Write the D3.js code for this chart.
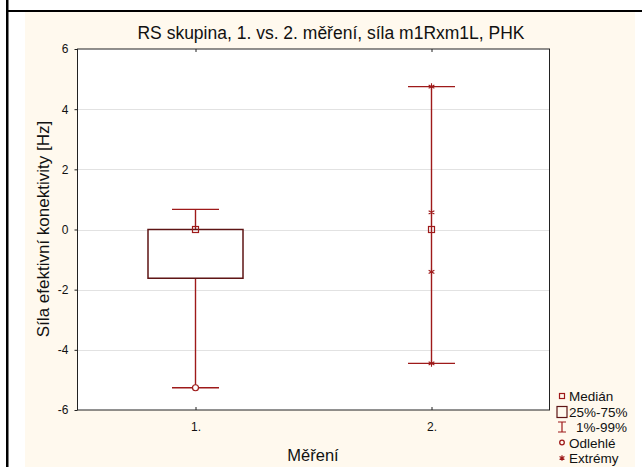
<!DOCTYPE html>
<meta charset="utf-8">
<body style="margin:0;background:#fff">
<style>
text { font-family: "Liberation Sans", Arial, sans-serif; fill: #111; }
.grid line { stroke: #e2e2e2; stroke-width: 1px; }
</style>
<script src="https://d3js.org/d3.v7.min.js"></script>
<script>

var categories = ["1.", "2."];
var medians = [0, 0];
var q1 = [-1.62, 0];
var q3 = [0, 0];
var p1 = [-5.26, -4.45];
var p99 = [0.67, 4.75];
var outliers = [[-5.26], []];
var extremes = [[], [4.75, 0.57, -1.41, -4.45]];
var yTicks = [-6, -4, -2, 0, 2, 4, 6];
var legendLabels = ["Medián", "25%-75%", "1%-99%", "Odlehlé", "Extrémy"];

var red = "#9e1a1a", dark = "#5e1414";

var svg = d3.select("body").append("svg")
    .attr("width", 642)
    .attr("height", 467);

// frame + cream panel
svg.append("rect").attr("x", 25).attr("y", 12).attr("width", 610).attr("height", 455).attr("fill", "#fff9ee");
svg.append("rect").attr("x", 6).attr("y", 0).attr("width", 2.5).attr("height", 467).attr("fill", "#000");
svg.append("rect").attr("x", 6).attr("y", 10).attr("width", 636).attr("height", 2).attr("fill", "#000");

var pLeft = 77.5, pRight = 549.5, pTop = 49, pBottom = 410;

var x = d3.scalePoint().domain(categories).range([pLeft, pRight]).padding(0.5);
var y = d3.scaleLinear().domain([-6, 6]).range([pBottom, pTop]);

svg.append("rect").attr("x", pLeft).attr("y", pTop).attr("width", pRight - pLeft).attr("height", pBottom - pTop)
    .attr("fill", "#fff");

svg.append("g").attr("class", "grid")
  .selectAll("line").data(yTicks.filter(function(d) { return d > -6 && d < 6; }))
  .enter().append("line")
    .attr("x1", pLeft).attr("x2", pRight)
    .attr("y1", function(d) { return Math.round(y(d)) + 0.5; })
    .attr("y2", function(d) { return Math.round(y(d)) + 0.5; });

// axes
var yAxis = svg.append("g").attr("transform", "translate(" + pLeft + ",0)")
    .call(d3.axisLeft(y).tickValues(yTicks).tickSize(3).tickPadding(6)
      .tickFormat(function(d) { return String(d); }));
var xAxis = svg.append("g").attr("transform", "translate(0," + pBottom + ")")
    .call(d3.axisBottom(x).tickSize(-3).tickPadding(12));
svg.append("g").attr("transform", "translate(0," + pTop + ")")
    .call(d3.axisTop(x).tickSize(-3).tickFormat(""));
[yAxis, xAxis].forEach(function(a) {
  a.selectAll("text").style("font-size", "12px").attr("fill", "#111");
});
svg.selectAll(".domain").remove();
svg.selectAll(".tick line").attr("stroke", "#222");
svg.append("rect").attr("x", pLeft).attr("y", pTop).attr("width", pRight - pLeft).attr("height", pBottom - pTop)
    .attr("fill", "none").attr("stroke", "#222").attr("stroke-width", 1);

// boxes
var boxW = 95, capW = 47;
var g = svg.selectAll(".box").data(categories).enter().append("g").attr("class", "box");

g.append("line")
    .attr("x1", function(d) { return x(d); }).attr("x2", function(d) { return x(d); })
    .attr("y1", function(d, i) { return y(p99[i]); }).attr("y2", function(d, i) { return y(p1[i]); })
    .attr("stroke", red).attr("stroke-width", 1.4);
[p1, p99].forEach(function(arr) {
  g.append("line")
      .attr("x1", function(d) { return x(d) - capW / 2; }).attr("x2", function(d) { return x(d) + capW / 2; })
      .attr("y1", function(d, i) { return y(arr[i]); }).attr("y2", function(d, i) { return y(arr[i]); })
      .attr("stroke", red).attr("stroke-width", 1.4);
});
g.append("rect")
    .attr("x", function(d) { return x(d) - boxW / 2; })
    .attr("y", function(d, i) { return y(q3[i]); })
    .attr("width", boxW)
    .attr("height", function(d, i) { return y(q1[i]) - y(q3[i]); })
    .attr("fill", function(d, i) { return q1[i] === q3[i] ? "none" : "#fff"; })
    .attr("stroke", dark).attr("stroke-width", 1.5);
g.append("rect")
    .attr("x", function(d) { return x(d) - 3; })
    .attr("y", function(d, i) { return y(medians[i]) - 3; })
    .attr("width", 6).attr("height", 6)
    .attr("fill", "none").attr("stroke", red).attr("stroke-width", 1.2);

g.each(function(d, i) {
  d3.select(this).selectAll(".out").data(outliers[i]).enter().append("circle")
      .attr("cx", x(d)).attr("cy", function(v) { return y(v); }).attr("r", 3)
      .attr("fill", "#fff").attr("stroke", red).attr("stroke-width", 1.2);
  d3.select(this).selectAll(".ext").data(extremes[i]).enter().append("path")
      .attr("d", d3.symbol(d3.symbolAsterisk, 30))
      .attr("transform", function(v) { return "translate(" + x(d) + "," + y(v) + ")"; })
      .attr("fill", "none").attr("stroke", red).attr("stroke-width", 1.1);
});

// titles
svg.append("text").attr("x", 331).attr("y", 39).attr("text-anchor", "middle")
    .style("font-size", "17.5px").text("RS skupina, 1. vs. 2. měření, síla m1Rxm1L, PHK");
svg.append("text").attr("transform", "translate(49,229) rotate(-90)").attr("text-anchor", "middle")
    .style("font-size", "17px").text("Síla efektivní konektivity [Hz]");
svg.append("text").attr("x", 313).attr("y", 461).attr("text-anchor", "middle")
    .style("font-size", "16.5px").text("Měření");

// legend
var ly = d3.scalePoint().domain(legendLabels).range([396, 458]);
var lg = svg.append("g");
var sx = 562;
lg.append("rect").attr("x", sx - 2.5).attr("y", ly("Medián") - 2.5).attr("width", 5).attr("height", 5)
    .attr("fill", "none").attr("stroke", red).attr("stroke-width", 1.2);
lg.append("rect").attr("x", sx - 5).attr("y", ly("25%-75%") - 5).attr("width", 10).attr("height", 11)
    .attr("fill", "none").attr("stroke", dark).attr("stroke-width", 1.2);
var iy = ly("1%-99%");
lg.append("path").attr("d", "M" + (sx - 4) + "," + (iy - 5) + "H" + (sx + 4) + "M" + sx + "," + (iy - 5) + "V" + (iy + 5) + "M" + (sx - 4) + "," + (iy + 5) + "H" + (sx + 4))
    .attr("fill", "none").attr("stroke", red).attr("stroke-width", 1.2);
lg.append("circle").attr("cx", sx).attr("cy", ly("Odlehlé")).attr("r", 2.3)
    .attr("fill", "none").attr("stroke", red).attr("stroke-width", 1.3);
lg.append("path").attr("d", d3.symbol(d3.symbolAsterisk, 22))
    .attr("transform", "translate(" + sx + "," + ly("Extrémy") + ")")
    .attr("fill", "none").attr("stroke", red).attr("stroke-width", 1.2);
lg.selectAll("text").data(legendLabels).enter().append("text")
    .attr("x", function(d) { return d === "1%-99%" ? 576 : 569; })
    .attr("y", function(d) { return ly(d) + 5; })
    .style("font-size", "13.5px")
    .text(function(d) { return d; });

</script>
</body>
